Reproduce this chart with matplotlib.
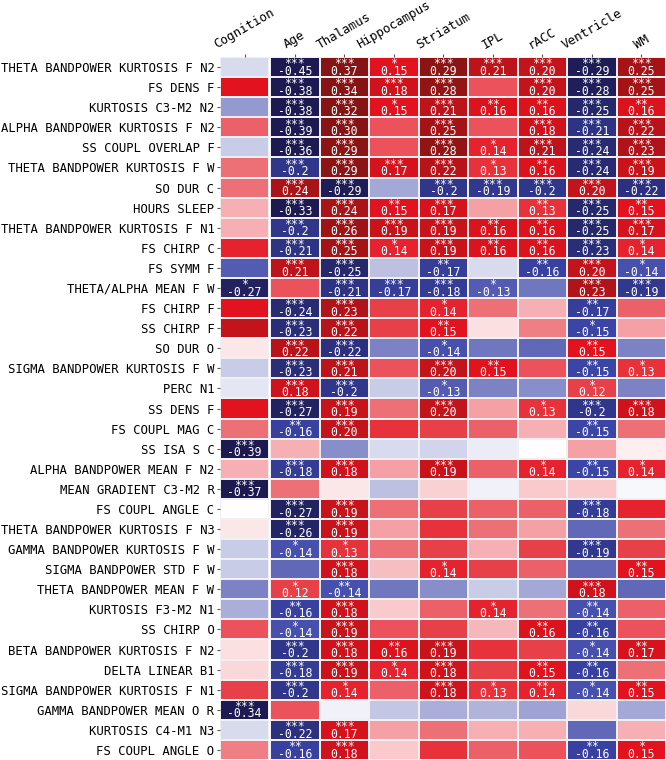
import matplotlib
matplotlib.use('Agg')
import matplotlib.pyplot as plt
from matplotlib.colors import LinearSegmentedColormap
import numpy as np

ROW_LABELS = [
    'THETA BANDPOWER KURTOSIS F N2', 'FS DENS F', 'KURTOSIS C3-M2 N2',
    'ALPHA BANDPOWER KURTOSIS F N2', 'SS COUPL OVERLAP F',
    'THETA BANDPOWER KURTOSIS F W', 'SO DUR C', 'HOURS SLEEP',
    'THETA BANDPOWER KURTOSIS F N1', 'FS CHIRP C', 'FS SYMM F',
    'THETA/ALPHA MEAN F W', 'FS CHIRP F', 'SS CHIRP F', 'SO DUR O',
    'SIGMA BANDPOWER KURTOSIS F W', 'PERC N1', 'SS DENS F', 'FS COUPL MAG C',
    'SS ISA S C', 'ALPHA BANDPOWER MEAN F N2', 'MEAN GRADIENT C3-M2 R',
    'FS COUPL ANGLE C', 'THETA BANDPOWER KURTOSIS F N3',
    'GAMMA BANDPOWER KURTOSIS F W', 'SIGMA BANDPOWER STD F W',
    'THETA BANDPOWER MEAN F W', 'KURTOSIS F3-M2 N1', 'SS CHIRP O',
    'BETA BANDPOWER KURTOSIS F N2', 'DELTA LINEAR B1',
    'SIGMA BANDPOWER KURTOSIS F N1', 'GAMMA BANDPOWER MEAN O R',
    'KURTOSIS C4-M1 N3', 'FS COUPL ANGLE O',
]

BRAIN_COLUMNS = ['Age', 'Thalamus', 'Hippocampus', 'Striatum', 'IPL', 'rACC',
                 'Ventricle', 'WM']

# correlation r per column, significance level (number of stars) per column
COGNITION_R = [-0.03, 0.15, -0.08, 0.10, -0.04, 0.09, 0.09, 0.05, 0.05, 0.14,
               -0.13, -0.27, 0.15, 0.20, 0.015, -0.04, -0.02, 0.15, 0.09, -0.39,
               0.05, -0.37, 0.0, 0.015, -0.04, -0.04, -0.10, -0.065, 0.11, 0.02,
               0.025, 0.12, -0.34, -0.03, 0.08]
COGNITION_SIG = [0, 0, 0, 0, 0, 0, 0, 0, 0, 0, 0, 1, 0, 0, 0, 0, 0, 0, 0, 3,
                 0, 3, 0, 0, 0, 0, 0, 0, 0, 0, 0, 0, 3, 0, 0]

AGE_R = [-0.45, -0.38, -0.38, -0.39, -0.36, -0.20, 0.24, -0.33, -0.20, -0.21,
         0.21, 0.11, -0.24, -0.23, 0.22, -0.23, 0.18, -0.27, -0.16, 0.05,
         -0.18, 0.09, -0.27, -0.26, -0.14, -0.12, 0.12, -0.16, -0.14, -0.20,
         -0.18, -0.20, 0.11, -0.22, -0.16]
AGE_SIG = [3, 3, 3, 3, 3, 3, 3, 3, 3, 3, 3, 0, 3, 3, 3, 3, 3, 3, 2, 0,
           3, 0, 3, 3, 1, 0, 1, 2, 1, 3, 3, 3, 0, 3, 2]

THALAMUS_R = [0.37, 0.34, 0.32, 0.30, 0.29, 0.29, -0.29, 0.24, 0.26, 0.25,
              -0.25, -0.21, 0.23, 0.22, -0.22, 0.21, -0.20, 0.19, 0.20, -0.09,
              0.18, 0.015, 0.19, 0.19, 0.13, 0.18, -0.14, 0.18, 0.19, 0.18,
              0.19, 0.14, -0.01, 0.17, 0.18]
THALAMUS_SIG = [3, 3, 3, 3, 3, 3, 3, 3, 3, 3, 3, 3, 3, 3, 3, 3, 3, 3, 3, 0,
                3, 0, 3, 3, 1, 3, 2, 3, 3, 3, 3, 1, 0, 3, 3]

HIPPOCAMPUS_R = [0.15, 0.18, 0.15, 0.11, 0.11, 0.17, -0.07, 0.15, 0.19, 0.14,
                 -0.05, -0.17, 0.12, 0.12, -0.10, 0.11, -0.04, 0.09, 0.13, -0.03,
                 0.06, -0.05, 0.09, 0.06, 0.09, 0.04, -0.11, 0.035, 0.11, 0.16,
                 0.14, 0.10, -0.045, 0.06, 0.035]
HIPPOCAMPUS_SIG = [1, 3, 1, 0, 0, 3, 0, 2, 3, 1, 0, 3, 0, 0, 0, 0, 0, 0, 0, 0,
                   0, 0, 0, 0, 0, 0, 0, 0, 0, 2, 1, 0, 0, 0, 0]

STRIATUM_R = [0.29, 0.28, 0.21, 0.25, 0.28, 0.22, -0.20, 0.17, 0.19, 0.19,
              -0.17, -0.18, 0.14, 0.15, -0.14, 0.20, -0.13, 0.20, 0.12, -0.035,
              0.19, 0.03, 0.12, 0.13, 0.12, 0.14, -0.09, 0.10, 0.12, 0.19,
              0.18, 0.18, -0.065, 0.09, 0.13]
STRIATUM_SIG = [3, 3, 3, 3, 3, 3, 3, 3, 3, 3, 2, 3, 1, 2, 1, 3, 1, 3, 0, 0,
                3, 0, 0, 0, 0, 1, 0, 0, 0, 3, 3, 3, 0, 0, 0]

IPL_R = [0.21, 0.11, 0.16, 0.11, 0.14, 0.13, -0.19, 0.06, 0.16, 0.16,
         -0.03, -0.13, 0.09, 0.02, -0.11, 0.15, -0.10, 0.06, 0.10, -0.015,
         0.10, -0.01, 0.10, 0.09, 0.05, 0.12, -0.04, 0.14, 0.045, 0.13,
         0.12, 0.13, -0.06, 0.05, 0.10]
IPL_SIG = [3, 0, 2, 0, 1, 1, 3, 0, 2, 2, 0, 1, 0, 0, 0, 2, 0, 0, 0, 0,
           0, 0, 0, 0, 0, 0, 0, 1, 0, 0, 0, 1, 0, 0, 0]

RACC_R = [0.20, 0.20, 0.16, 0.18, 0.21, 0.16, -0.20, 0.13, 0.16, 0.16,
          -0.16, -0.11, 0.05, 0.08, -0.12, 0.11, -0.09, 0.13, 0.05, 0.0,
          0.14, 0.035, 0.10, 0.06, 0.12, 0.10, -0.07, 0.09, 0.16, 0.12,
          0.15, 0.14, -0.075, 0.05, 0.11]
RACC_SIG = [3, 3, 2, 3, 3, 2, 3, 2, 2, 2, 2, 0, 0, 0, 0, 0, 0, 1, 0, 0,
            1, 0, 0, 0, 0, 0, 0, 0, 2, 0, 2, 2, 0, 0, 0]

VENTRICLE_R = [-0.29, -0.28, -0.25, -0.21, -0.24, -0.24, 0.20, -0.25, -0.25,
               -0.23, 0.20, 0.23, -0.17, -0.15, 0.15, -0.15, 0.12, -0.20, -0.15,
               0.06, -0.15, 0.035, -0.18, -0.12, -0.19, -0.12, 0.18, -0.14,
               -0.16, -0.14, -0.16, -0.14, 0.025, -0.12, -0.16]
VENTRICLE_SIG = [3, 3, 3, 3, 3, 3, 3, 3, 3, 3, 3, 3, 2, 1, 2, 2, 1, 3, 2, 0,
                 2, 0, 3, 0, 3, 0, 3, 2, 2, 1, 2, 1, 0, 0, 2]

WM_R = [0.25, 0.25, 0.16, 0.22, 0.23, 0.19, -0.22, 0.15, 0.17, 0.14,
        -0.14, -0.19, 0.10, 0.06, -0.10, 0.13, -0.10, 0.18, 0.09, 0.01,
        0.14, -0.005, 0.14, 0.09, 0.12, 0.15, -0.12, 0.10, 0.11, 0.17,
        0.09, 0.15, -0.07, 0.05, 0.15]
WM_SIG = [3, 3, 2, 3, 3, 3, 3, 2, 3, 1, 1, 3, 0, 0, 0, 1, 0, 3, 0, 0,
          1, 0, 0, 0, 0, 2, 0, 0, 0, 2, 0, 2, 0, 0, 1]

# seismic-like map with the muted (print-converted) tones of the figure
CMAP = LinearSegmentedColormap.from_list(
    'muted_seismic',
    [(0.0, '#1c1a50'), (0.25, '#3a44a6'), (0.5, '#ffffff'),
     (0.75, '#e3121e'), (1.0, '#861414')])

MONO = 'DejaVu Sans Mono'


def fmt_r(v):
    s = f'{v:.2f}'
    if v < 0 and s.endswith('0'):
        s = s[:-1]
    return s


def draw_block(ax, r, sig, xlabels):
    r = np.asarray(r, dtype=float)
    sig = np.asarray(sig)
    n_rows, n_cols = r.shape
    ax.pcolormesh(np.arange(n_cols + 1), np.arange(n_rows + 1), r,
                  cmap=CMAP, vmin=-0.3, vmax=0.3,
                  edgecolors='#f0f0f4', linewidth=0.2)
    for i in range(n_rows):
        for j in range(n_cols):
            if sig[i, j] == 0:
                continue
            # stars hug the top of the cell, the r value sits below them
            ax.text(j + 0.5, i + 0.02, '*' * sig[i, j], ha='center', va='top',
                    color='white', fontsize=8.3, family=MONO)
            ax.text(j + 0.5, i + 0.88, fmt_r(r[i, j]), ha='center',
                    va='baseline', color='white', fontsize=8.3, family=MONO)
    ax.set_xlim(0, n_cols)
    ax.set_ylim(n_rows, 0)
    ax.xaxis.tick_top()
    ax.set_xticks(np.arange(n_cols) + 0.5)
    ax.set_xticklabels(xlabels, rotation=30, ha='center', fontsize=9,
                       family=MONO)
    ax.tick_params(axis='x', length=2.5, pad=1.5, color='#555555')
    for s in ax.spines.values():
        s.set_visible(False)


def main():
    fig = plt.figure(figsize=(6.66, 7.6), dpi=100)
    top = 1 - 57 / 760
    ax_cog = fig.add_axes([220 / 666, 0, 49 / 666, top])
    ax_main = fig.add_axes([270 / 666, 0, 396 / 666, top])

    draw_block(ax_cog, np.array(COGNITION_R)[:, None],
               np.array(COGNITION_SIG)[:, None], ['Cognition'])
    ax_cog.set_yticks(np.arange(len(ROW_LABELS)) + 0.5)
    ax_cog.set_yticklabels(ROW_LABELS, fontsize=8.8, family=MONO)
    ax_cog.tick_params(axis='y', length=2.5, pad=1.5, color='#555555')

    brain_r = np.column_stack([AGE_R, THALAMUS_R, HIPPOCAMPUS_R, STRIATUM_R,
                               IPL_R, RACC_R, VENTRICLE_R, WM_R])
    brain_sig = np.column_stack([AGE_SIG, THALAMUS_SIG, HIPPOCAMPUS_SIG,
                                 STRIATUM_SIG, IPL_SIG, RACC_SIG,
                                 VENTRICLE_SIG, WM_SIG])
    draw_block(ax_main, brain_r, brain_sig, BRAIN_COLUMNS)
    ax_main.set_yticks([])

    fig.savefig('out.png', dpi=100)
    plt.close(fig)


if __name__ == '__main__':
    main()
